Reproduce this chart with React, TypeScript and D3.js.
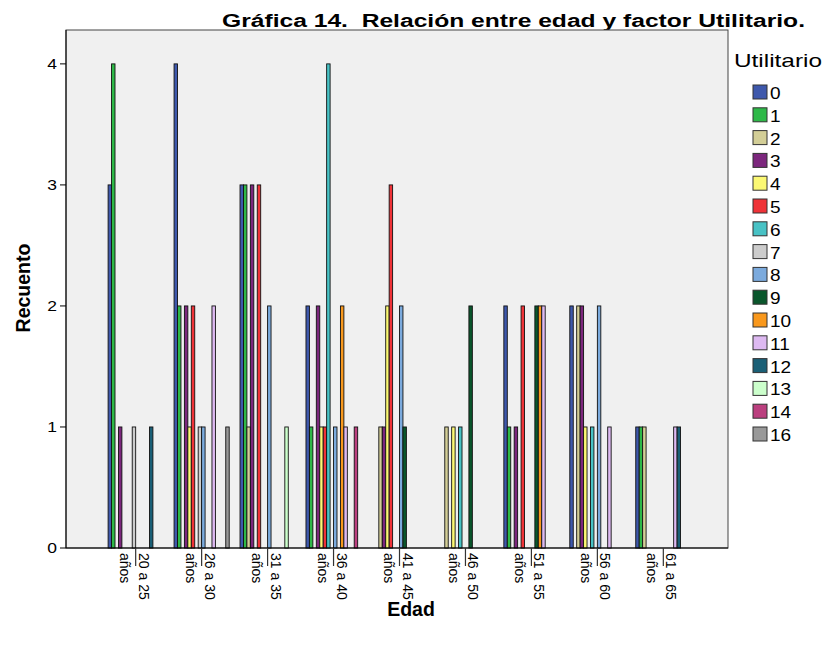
import React from "react";
import * as d3 from "d3";

const groups = ["20 a 25", "26 a 30", "31 a 35", "36 a 40", "41 a 45", "46 a 50", "51 a 55", "56 a 60", "61 a 65"];
const groupSuffix = "años";
const utilitario = ["0", "1", "2", "3", "4", "5", "6", "7", "8", "9", "10", "11", "12", "13", "14", "16"];
const colors = ["#3E58AC", "#2EB848", "#D3CE97", "#7C277D", "#FBF873", "#EF3338", "#48C2C5", "#CCCCCC", "#7BAADD", "#0A562C", "#F8981D", "#DDB9F1", "#1A5F76", "#CCFFCC", "#BB3F7F", "#999999"];
// rows = age groups, columns = utilitario categories
const counts = [
  [3, 4, 0, 1, 0, 0, 0, 1, 0, 0, 0, 0, 1, 0, 0, 0],
  [4, 2, 0, 2, 1, 2, 0, 1, 1, 0, 0, 2, 0, 0, 0, 1],
  [3, 3, 1, 3, 0, 3, 0, 0, 2, 0, 0, 0, 0, 1, 0, 0],
  [2, 1, 0, 2, 1, 1, 4, 0, 1, 0, 2, 1, 0, 0, 1, 0],
  [0, 0, 1, 1, 2, 3, 0, 0, 2, 1, 0, 0, 0, 0, 0, 0],
  [0, 0, 1, 0, 1, 0, 1, 0, 0, 2, 0, 0, 0, 0, 0, 0],
  [2, 1, 0, 1, 0, 2, 0, 0, 0, 2, 2, 2, 0, 0, 0, 0],
  [2, 0, 2, 2, 1, 0, 1, 0, 2, 0, 0, 1, 0, 0, 0, 0],
  [1, 1, 1, 0, 0, 0, 0, 0, 0, 0, 0, 1, 1, 0, 0, 0],
];
const yTicks = [0, 1, 2, 3, 4];
const title = "Gráfica 14.  Relación entre edad y factor Utilitario.";
const xTitle = "Edad";
const yTitle = "Recuento";
const legendTitle = "Utilitario";

const FONT = "'Liberation Sans', Arial, sans-serif";

export default function App() {
  const W = 825, H = 647;
  const plot = { left: 66, right: 728, top: 30, bottom: 548 };
  const x0 = d3.scaleBand<string>().domain(groups).range([102.7, 696.3]).paddingInner(0.164).paddingOuter(0.082);
  const x1 = d3.scaleBand<string>().domain(utilitario).range([0, x0.bandwidth()]);
  const y = d3.scaleLinear().domain([0, 4.28]).range([plot.bottom, plot.top]);

  return (
    <svg width={W} height={H} style={{ position: "absolute", left: 0, top: 0, display: "block", background: "#fff" }} fontFamily={FONT}>
      <text x={222} y={27} fontSize={18} fontWeight="bold" fill="#000" style={{ whiteSpace: "pre" }} textLength={583} lengthAdjust="spacingAndGlyphs">{title}</text>
      <rect x={plot.left} y={plot.top} width={plot.right - plot.left} height={plot.bottom - plot.top} fill="#F0F0F0" stroke="#444" strokeWidth={1} />
      {counts.map((row, gi) =>
        row.map((v, ci) =>
          v > 0 ? (
            <rect
              key={`${gi}-${ci}`}
              x={(x0(groups[gi]) as number) + (x1(utilitario[ci]) as number)}
              y={y(v)}
              width={x1.bandwidth()}
              height={y(0) - y(v)}
              fill={colors[ci]}
              stroke="#111"
              strokeWidth={0.9}
            />
          ) : null
        )
      )}
      {/* y axis */}
      <line x1={plot.left} x2={plot.left} y1={plot.top} y2={plot.bottom} stroke="#000" />
      {yTicks.map((t) => (
        <g key={t}>
          <line x1={plot.left - 6} x2={plot.left} y1={y(t)} y2={y(t)} stroke="#000" />
          <text transform={`translate(${plot.left - 9},${y(t) + 5}) scale(1.25,1)`} textAnchor="end" fontSize={14} fill="#000">{t}</text>
        </g>
      ))}
      {/* x axis */}
      <line x1={plot.left} x2={plot.right} y1={plot.bottom} y2={plot.bottom} stroke="#000" />
      {groups.map((g) => {
        const cx = (x0(g) as number) + x0.bandwidth() / 2;
        return (
          <g key={g}>
            <line x1={cx} x2={cx} y1={plot.bottom} y2={plot.bottom + 18} stroke="#333" strokeWidth={1.2} />
            <text transform={`translate(${cx + 3},${plot.bottom + 5}) rotate(90)`} fontSize={14} fill="#000">
              <tspan x={0} dy={0}>{g}</tspan>
              <tspan x={0} dy={19}>{groupSuffix}</tspan>
            </text>
          </g>
        );
      })}
      <text x={411} y={616} textAnchor="middle" fontSize={19.5} fontWeight="bold">{xTitle}</text>
      <text transform={`translate(30,288) rotate(-90)`} textAnchor="middle" fontSize={19.5} fontWeight="bold">{yTitle}</text>
      {/* legend */}
      <text x={734} y={67} fontSize={19} fill="#000" textLength={88} lengthAdjust="spacingAndGlyphs">{legendTitle}</text>
      {utilitario.map((u, i) => (
        <g key={u} transform={`translate(753, ${85 + i * 22.8})`}>
          <rect x={0} y={0} width={14} height={14} fill={colors[i]} stroke="#333" strokeWidth={1} />
          <text transform="translate(17,14) scale(1.12,1)" fontSize={17} fill="#000">{u}</text>
        </g>
      ))}
    </svg>
  );
}
